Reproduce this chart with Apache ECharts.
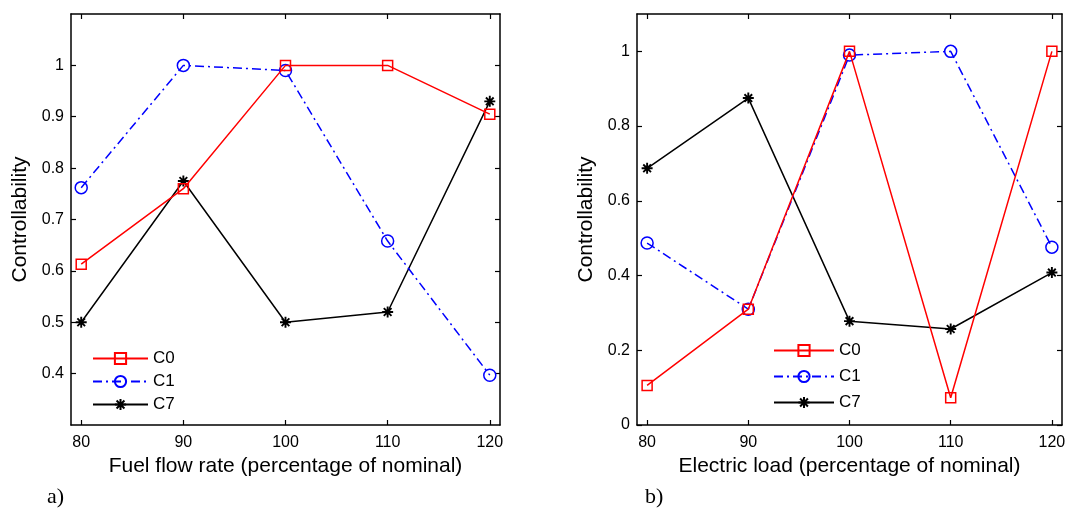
<!DOCTYPE html>
<html>
<head>
<meta charset="utf-8">
<script src="https://cdn.jsdelivr.net/npm/echarts@6/dist/echarts.min.js"></script>
<style>html,body{margin:0;padding:0;background:#fff}#c{width:1089px;height:510px}</style>
</head>
<body>
<div id="c"></div>
<script>
// ---- data ----
const xValues = [80, 90, 100, 110, 120];
const xTicks = [80, 90, 100, 110, 120];
// (a) Fuel flow rate
const fuelC0 = [0.613, 0.760, 1.000, 1.000, 0.905];
const fuelC1 = [0.762, 1.000, 0.990, 0.658, 0.397];
const fuelC7 = [0.500, 0.775, 0.500, 0.520, 0.930];
const fuelYTicks = [0.4, 0.5, 0.6, 0.7, 0.8, 0.9, 1];
// (b) Electric load
const loadC0 = [0.106, 0.310, 1.000, 0.073, 1.000];
const loadC1 = [0.487, 0.310, 0.990, 1.000, 0.476];
const loadC7 = [0.687, 0.875, 0.278, 0.257, 0.408];
const loadYTicks = [0, 0.2, 0.4, 0.6, 0.8, 1];
const seriesNames = ['C0', 'C1', 'C7'];
const xTitles = ['Fuel flow rate (percentage of nominal)', 'Electric load (percentage of nominal)'];
const yTitle = 'Controllability';
const panelLabels = ['a)', 'b)'];

const FONT = '"Liberation Sans", Arial, sans-serif';
const starPath = 'path://M0,5L10,5M5,0L5,10M1.5,1.5L8.5,8.5M8.5,1.5L1.5,8.5';
const styles = [
  {color: '#ff0000', symbol: 'rect', size: 10, type: 'solid', bw: 1.5},
  {color: '#0000ff', symbol: 'circle', size: 12, type: [9, 4, 2, 4], bw: 1.5},
  {color: '#000000', symbol: starPath, size: 11, type: 'solid', bw: 1.9}
];

function pairs(vals) { return xValues.map((x, i) => [x, vals[i]]); }

function mkX(gi, main) {
  return {
    type: 'value', gridIndex: gi, min: 79, max: 121,
    position: main ? 'bottom' : 'top',
    splitLine: {show: false},
    axisLine: {show: true, onZero: false, lineStyle: {color: '#000', width: 1.5}},
    axisTick: {show: true, inside: true, length: 5, customValues: xTicks, lineStyle: {color: '#000', width: 1.2}},
    axisLabel: {show: main, customValues: xTicks, color: '#000', fontSize: 16, fontFamily: FONT, margin: 10},
    name: main ? xTitles[gi] : '', nameLocation: 'middle', nameGap: 31,
    nameTextStyle: {color: '#000', fontSize: 21, fontFamily: FONT}
  };
}
function mkY(gi, main, min, max, ticks) {
  return {
    type: 'value', gridIndex: gi, min: min, max: max,
    position: main ? 'left' : 'right',
    splitLine: {show: false},
    axisLine: {show: true, onZero: false, lineStyle: {color: '#000', width: 1.5}},
    axisTick: {show: true, inside: true, length: 5, customValues: ticks, lineStyle: {color: '#000', width: 1.2}},
    axisLabel: {show: main, customValues: ticks, color: '#000', fontSize: 16, fontFamily: FONT, margin: 7},
    name: main ? yTitle : '', nameLocation: 'middle', nameRotate: 90, nameGap: 40,
    nameTextStyle: {color: '#000', fontSize: 21, fontFamily: FONT}
  };
}
function mkSeries(gi, arr) {
  return arr.map((vals, k) => ({
    type: 'line', name: seriesNames[k], xAxisIndex: gi * 2, yAxisIndex: gi * 2,
    data: pairs(vals),
    symbol: styles[k].symbol, symbolSize: styles[k].size,
    lineStyle: {color: styles[k].color, width: 1.5, type: styles[k].type},
    itemStyle: {color: 'rgba(0,0,0,0)', borderColor: styles[k].color, borderWidth: styles[k].bw},
    z: 3 - k
  }));
}

const option = {
  animation: false,
  backgroundColor: '#fff',
  grid: [
    {left: 71, right: 589, top: 14, bottom: 85},
    {left: 637, right: 27, top: 14, bottom: 85}
  ],
  xAxis: [mkX(0, true), mkX(0, false), mkX(1, true), mkX(1, false)],
  yAxis: [mkY(0, true, 0.3, 1.1, fuelYTicks), mkY(0, false, 0.3, 1.1, fuelYTicks),
          mkY(1, true, 0, 1.1, loadYTicks), mkY(1, false, 0, 1.1, loadYTicks)],
  legend: [
    {orient: 'vertical', left: 92, top: 350, padding: 0, itemWidth: 55, itemHeight: 14, itemGap: 6, itemTextGap: 6,
     data: seriesNames.slice(), textStyle: {color: '#000', fontSize: 17, lineHeight: 16, fontFamily: FONT}, selectedMode: false},
    {orient: 'vertical', left: 773, top: 342, padding: 0, itemWidth: 60, itemHeight: 14, itemGap: 9, itemTextGap: 7,
     data: seriesNames.slice(), textStyle: {color: '#000', fontSize: 17, lineHeight: 16, fontFamily: FONT}, selectedMode: false}
  ],
  graphic: [
    {type: 'text', left: 47, top: 486, style: {text: panelLabels[0], font: '22px "Liberation Serif", serif', fill: '#000'}},
    {type: 'text', left: 645, top: 486, style: {text: panelLabels[1], font: '22px "Liberation Serif", serif', fill: '#000'}}
  ],
  series: [].concat(mkSeries(0, [fuelC0, fuelC1, fuelC7]), mkSeries(1, [loadC0, loadC1, loadC7]))
};
const chart = echarts.init(document.getElementById('c'), null, {renderer: 'canvas'});
chart.setOption(option);
</script>
</body>
</html>
